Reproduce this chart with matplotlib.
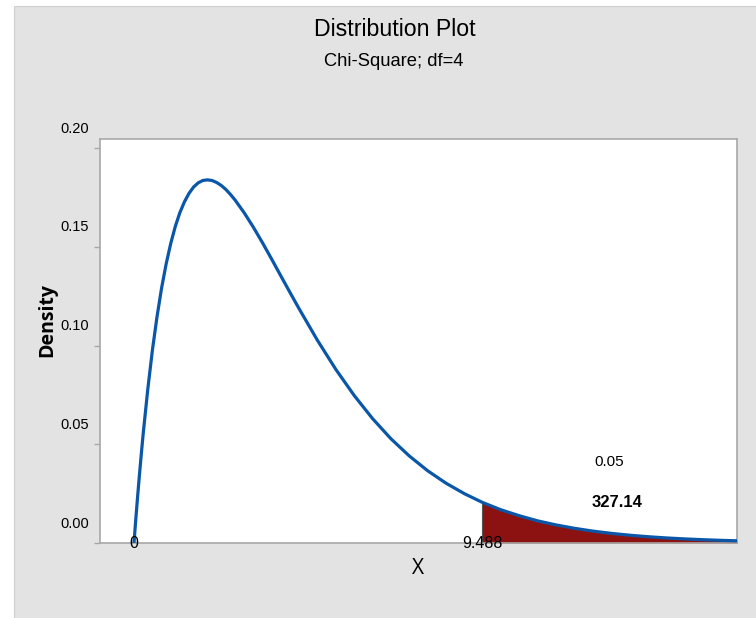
import matplotlib
matplotlib.use("Agg")
import matplotlib.pyplot as plt
import matplotlib.transforms as mtransforms
from matplotlib.patches import Rectangle
import numpy as np

# values (chi-square df=4 density curve)
x_vals = [0.0, 0.05, 0.1, 0.15, 0.2, 0.25, 0.375, 0.5, 0.625, 0.75, 0.875, 1.0,
          1.125, 1.25, 1.375, 1.5, 1.625, 1.75, 1.875, 2.0, 2.125, 2.25, 2.375,
          2.5, 2.625, 2.75, 3.0, 3.25, 3.5, 3.75, 4.0, 4.25, 4.5, 5.0, 5.5, 6.0,
          6.5, 7.0, 7.5, 8.0, 8.5, 9.0, 9.488, 10.0, 10.5, 11.0, 11.5, 12.0,
          12.5, 13.0, 13.5, 14.0, 14.5, 15.0, 15.5, 16.0, 16.5]
density = [0.0, 0.0122, 0.0238, 0.0348, 0.0452, 0.0552, 0.0777, 0.0974, 0.1143,
           0.1289, 0.1412, 0.1516, 0.1603, 0.1673, 0.1728, 0.1771, 0.1803, 0.1824,
           0.1836, 0.1839, 0.1836, 0.1826, 0.1811, 0.1791, 0.1766, 0.1738, 0.1673,
           0.1600, 0.1521, 0.1438, 0.1353, 0.1269, 0.1186, 0.1026, 0.0879, 0.0747,
           0.0630, 0.0528, 0.0441, 0.0366, 0.0303, 0.0250, 0.0206, 0.0168, 0.0138,
           0.0112, 0.00915, 0.00744, 0.00603, 0.00489, 0.00395, 0.00319, 0.00257,
           0.00207, 0.00167, 0.00134, 0.00108]

critical = 9.488
x_tick_labels = ["0", "9.488"]
x_tick_pos = [0, critical]
y_ticks = [0.00, 0.05, 0.10, 0.15, 0.20]
area_label = "0.05"
stat_label = "327.14"

title = "Distribution Plot"
subtitle = "Chi-Square; df=4"

narrow = ["Liberation Sans", "DejaVu Sans"]
wide = ["Open Sans", "DejaVu Sans"]

fig = plt.figure(figsize=(7.56, 6.18), dpi=100, facecolor="white")
bg = Rectangle((14 / 756, 0), 1, 612 / 618, transform=fig.transFigure,
               facecolor="#e3e3e3", edgecolor="#d0d0d0", lw=0.8, zorder=-10)
fig.patches.append(bg)

ax = fig.add_axes([100 / 756, 75 / 618, 637 / 756, 404 / 618])
ax.set_facecolor("white")

xs = np.array(x_vals)
ys = np.array(density)
tail = xs >= critical

ax.fill_between(xs[tail], 0, ys[tail], color="#8c1212", lw=0, zorder=2)
ax.plot([critical, critical], [0, ys[tail][0]], color="#555555", lw=0.8, zorder=2)
ax.plot(xs, ys, color="#0a56a8", lw=2.3, zorder=3, solid_capstyle="round",
        solid_joinstyle="round")

ax.set_xlim(-0.926, 16.43)
ax.set_ylim(0, 0.2046)

for s in ax.spines.values():
    s.set_color("#a8a8a8")
    s.set_linewidth(1.2)

ax.set_xticks([])
ax.set_yticks(y_ticks)
ax.set_yticklabels([f"{v:.2f}" for v in y_ticks], family=narrow, fontsize=10.5)
ax.tick_params(axis="y", length=4, width=1, color="#a8a8a8", pad=4)
offset = mtransforms.ScaledTranslation(0, 0.21, fig.dpi_scale_trans)
for lab in ax.get_yticklabels():
    lab.set_transform(lab.get_transform() + offset)

for pos, lab in zip(x_tick_pos, x_tick_labels):
    ax.text(pos, 0, lab, ha="center", va="center", family=narrow, fontsize=11.5,
            zorder=4, clip_on=False)

ax.text(12.94, 0.041, area_label, ha="center", va="center", family=narrow, fontsize=11)
ax.text(13.16, 0.0203, stat_label, ha="center", va="center", family=narrow,
        fontsize=12, fontweight="bold")

fig.text(47 / 756, 1 - 320 / 618, "Density", rotation=90, ha="center", va="center",
         family=wide, fontsize=14, fontweight="bold")
fig.text(418 / 756, 1 - 568 / 618, "X", ha="center", va="center", family=wide, fontsize=15)

fig.text(395 / 756, 1 - 30 / 618, title, ha="center", va="center", family=narrow, fontsize=16.7)
fig.text(394 / 756, 1 - 61 / 618, subtitle, ha="center", va="center", family=narrow, fontsize=13.2)

fig.savefig("out.png", dpi=100, facecolor=fig.get_facecolor())
